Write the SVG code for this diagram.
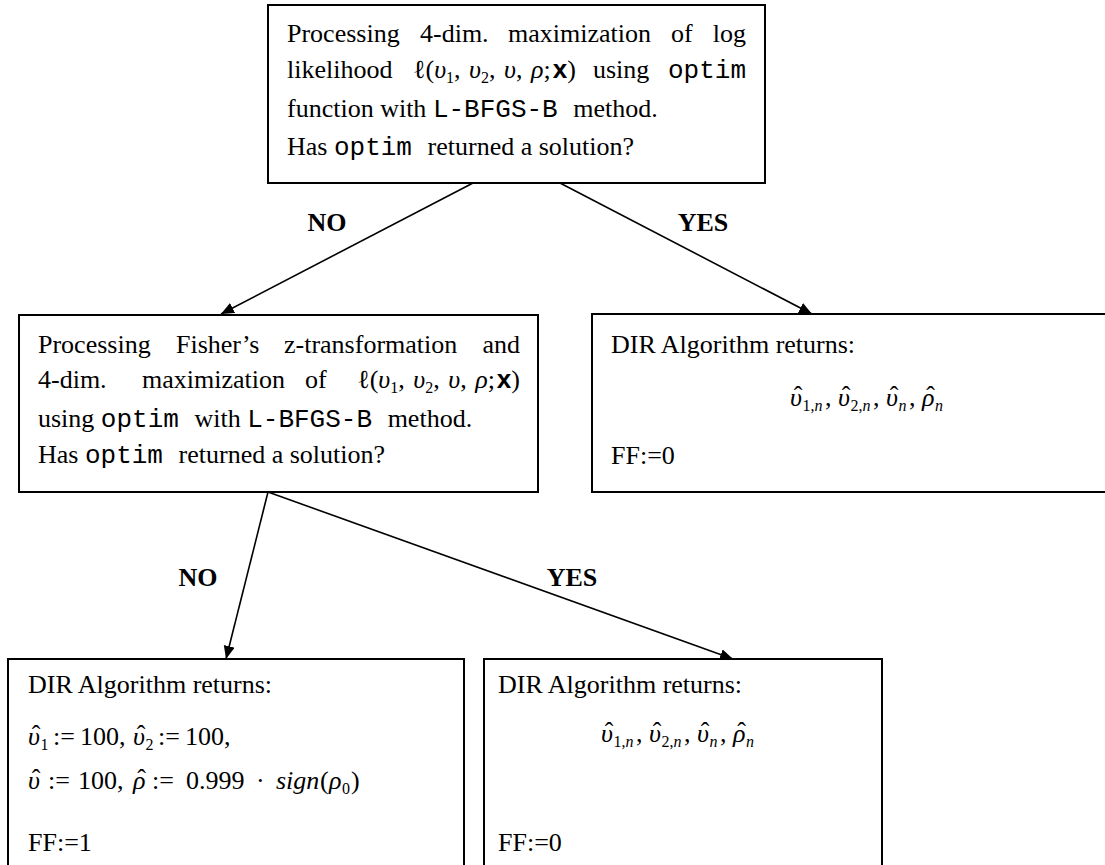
<svg xmlns="http://www.w3.org/2000/svg" width="1105" height="865" viewBox="0 0 1105 865">
  <style>
    .box { fill: #fff; stroke: #000; stroke-width: 2; }
    .t { font-family: "Liberation Serif", "Times New Roman", serif; font-size: 26px; fill: #000; }
    .m { font-family: "Liberation Mono", "Courier New", monospace; font-size: 26px; }
    .i { font-style: italic; }
    .s { font-size: 16px; }
    .x { font-family: "Liberation Sans", Arial, sans-serif; font-weight: bold; }
    .hat { font-family: "Liberation Serif", "Times New Roman", serif; font-size: 26px; text-anchor: middle; }
    .lbl { font-family: "Liberation Serif", "Times New Roman", serif; font-size: 26px; font-weight: bold; text-anchor: middle; }
    .end { text-anchor: end; }
    .c { fill: none; stroke: #000; stroke-width: 1.6; marker-end: url(#arrow); }
  </style>
  <defs>
    <marker id="arrow" markerUnits="userSpaceOnUse" markerWidth="14" markerHeight="12" refX="13" refY="5.5" orient="auto">
      <path d="M0,0 L13,5.5 L0,11 Z" fill="#000"/>
    </marker>
  </defs>
  <rect width="1105" height="865" fill="#fff"/>

  <!-- connectors -->
  <g id="connectors">
    <line class="c" x1="473" y1="183" x2="221" y2="314"/>
    <line class="c" x1="560" y1="183" x2="812" y2="314"/>
    <line class="c" x1="268" y1="492" x2="226" y2="659"/>
    <line class="c" x1="268" y1="492" x2="733" y2="659"/>
    <text class="lbl" x="327" y="231">NO</text>
    <text class="lbl" x="703" y="231">YES</text>
    <text class="lbl" x="198" y="586">NO</text>
    <text class="lbl" x="572" y="586">YES</text>
  </g>

  <!-- first optimisation step -->
  <g id="node-start">
    <rect class="box" x="268" y="5" width="497" height="178"/>
    <text class="t" y="42"><tspan x="287">Processing</tspan><tspan x="420">4-dim.</tspan><tspan x="508">maximization</tspan><tspan x="671">of</tspan></text>
    <text class="t end" x="746" y="42">log</text>
    <text class="t" x="287" y="78">likelihood</text>
    <text class="t" x="413" y="78" xml:space="preserve">ℓ(<tspan class="i">υ</tspan><tspan class="s" dy="5">1</tspan><tspan dy="-5">, </tspan><tspan class="i" dx="2">υ</tspan><tspan class="s" dy="5">2</tspan><tspan dy="-5">, </tspan><tspan class="i" dx="2">υ</tspan>, <tspan class="i" dx="2">ρ</tspan>;<tspan class="x" dx="2">x</tspan>)</text>
    <text class="t" x="593" y="78">using</text>
    <text class="m end" x="746" y="78">optim</text>
    <text class="t" x="287" y="117" xml:space="preserve">function with <tspan class="m">L-BFGS-B </tspan>method.</text>
    <text class="t" x="287" y="155" xml:space="preserve">Has <tspan class="m">optim </tspan>returned a solution?</text>
  </g>

  <!-- Fisher z-transformation step -->
  <g id="node-fisher">
    <rect class="box" x="19" y="315" width="519" height="177"/>
    <text class="t" y="353"><tspan x="38">Processing</tspan><tspan x="176">Fisher’s</tspan><tspan x="284">z-transformation</tspan></text>
    <text class="t end" x="520" y="353">and</text>
    <text class="t" y="388"><tspan x="38">4-dim.</tspan><tspan x="142">maximization</tspan><tspan x="305">of</tspan></text>
    <text class="t end" x="520" y="388" xml:space="preserve">ℓ(<tspan class="i">υ</tspan><tspan class="s" dy="5">1</tspan><tspan dy="-5">, </tspan><tspan class="i" dx="2">υ</tspan><tspan class="s" dy="5">2</tspan><tspan dy="-5">, </tspan><tspan class="i" dx="2">υ</tspan>, <tspan class="i" dx="2">ρ</tspan>;<tspan class="x" dx="2">x</tspan>)</text>
    <text class="t" x="38" y="427" xml:space="preserve">using <tspan class="m">optim </tspan>with <tspan class="m">L-BFGS-B </tspan>method.</text>
    <text class="t" x="38" y="463" xml:space="preserve">Has <tspan class="m">optim </tspan>returned a solution?</text>
  </g>

  <!-- success after first step -->
  <g id="node-yes1">
    <rect class="box" x="592" y="314" width="520" height="178"/>
    <text class="t" x="611" y="353">DIR Algorithm returns:</text>
    <text class="t"><tspan class="i" x="790" y="406">υ</tspan><tspan class="s" x="802.5" y="411">1,<tspan class="i">n</tspan></tspan><tspan x="825" y="406">,</tspan><tspan class="i" x="838" y="406">υ</tspan><tspan class="s" x="850.5" y="411">2,<tspan class="i">n</tspan></tspan><tspan x="873" y="406">,</tspan><tspan class="i" x="886" y="406">υ</tspan><tspan class="s i" x="898.5" y="411">n</tspan><tspan x="909" y="406">,</tspan><tspan class="i" x="922" y="406">ρ</tspan><tspan class="s i" x="935" y="411">n</tspan></text>
    <text class="hat" y="404"><tspan x="798">ˆ</tspan><tspan x="846">ˆ</tspan><tspan x="894">ˆ</tspan><tspan x="930.5">ˆ</tspan></text>
    <text class="t" x="611" y="464">FF:=0</text>
  </g>

  <!-- fallback values -->
  <g id="node-no2">
    <rect class="box" x="8" y="659" width="456" height="212"/>
    <text class="t" x="28" y="693">DIR Algorithm returns:</text>
    <text class="t"><tspan class="i" x="28" y="745">υ</tspan><tspan class="s" x="40.5" y="750">1</tspan><tspan x="53" y="745">:=</tspan><tspan x="80" y="745">100,</tspan><tspan class="i" x="133" y="745">υ</tspan><tspan class="s" x="145.5" y="750">2</tspan><tspan x="158" y="745">:=</tspan><tspan x="185" y="745">100,</tspan></text>
    <text class="hat" y="743"><tspan x="36">ˆ</tspan><tspan x="141">ˆ</tspan></text>
    <text class="t"><tspan class="i" x="28" y="789">υ</tspan><tspan x="48" y="789">:=</tspan><tspan x="78" y="789">100,</tspan><tspan class="i" x="133" y="789">ρ</tspan><tspan x="152" y="789">:=</tspan><tspan x="186" y="789">0.999</tspan><tspan x="256" y="789">·</tspan><tspan class="i" x="276" y="789">sign</tspan><tspan x="320" y="789">(</tspan><tspan class="i" x="329" y="789">ρ</tspan><tspan class="s" x="342" y="794">0</tspan><tspan x="351" y="789">)</tspan></text>
    <text class="hat" y="787"><tspan x="36">ˆ</tspan><tspan x="141.5">ˆ</tspan></text>
    <text class="t" x="28" y="851">FF:=1</text>
  </g>

  <!-- success after Fisher step -->
  <g id="node-yes2">
    <rect class="box" x="484" y="659" width="398" height="212"/>
    <text class="t" x="498" y="693">DIR Algorithm returns:</text>
    <text class="t"><tspan class="i" x="601" y="742">υ</tspan><tspan class="s" x="613.5" y="747">1,<tspan class="i">n</tspan></tspan><tspan x="636" y="742">,</tspan><tspan class="i" x="649" y="742">υ</tspan><tspan class="s" x="661.5" y="747">2,<tspan class="i">n</tspan></tspan><tspan x="684" y="742">,</tspan><tspan class="i" x="697" y="742">υ</tspan><tspan class="s i" x="709.5" y="747">n</tspan><tspan x="720" y="742">,</tspan><tspan class="i" x="733" y="742">ρ</tspan><tspan class="s i" x="746" y="747">n</tspan></text>
    <text class="hat" y="740"><tspan x="609">ˆ</tspan><tspan x="657">ˆ</tspan><tspan x="705">ˆ</tspan><tspan x="741.5">ˆ</tspan></text>
    <text class="t" x="498" y="851">FF:=0</text>
  </g>
</svg>
